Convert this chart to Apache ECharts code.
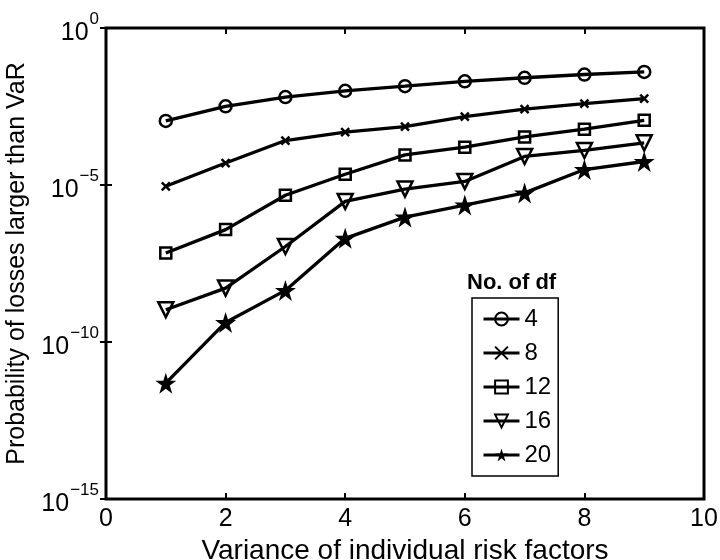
<!DOCTYPE html>
<html>
<head>
<meta charset="utf-8">
<script src="https://cdn.jsdelivr.net/npm/echarts@6/dist/echarts.min.js"></script>
<style>
  html, body { margin: 0; padding: 0; background: #fff; }
  #main { width: 720px; height: 560px; }
</style>
</head>
<body>
<div id="main"></div>
<script>
// variance of individual risk factors
const variances = [1, 2, 3, 4, 5, 6, 7, 8, 9]
// probability of losses larger than VaR, one list per number of df
const df4 = [1.1e-3, 3.2e-3, 6.3e-3, 1.0e-2, 1.4e-2, 2.0e-2, 2.6e-2, 3.3e-2, 4.0e-2]
const df8 = [9.1e-6, 5.0e-5, 2.6e-4, 4.8e-4, 7.2e-4, 1.5e-3, 2.6e-3, 3.9e-3, 5.6e-3]
const df12 = [6.8e-8, 3.8e-7, 4.7e-6, 2.2e-5, 9.1e-5, 1.6e-4, 3.4e-4, 6.0e-4, 1.15e-3]
const df16 = [1.07e-9, 5.2e-9, 1.1e-7, 3.0e-6, 7.4e-6, 1.3e-5, 8.1e-5, 1.26e-4, 2.2e-4]
const df20 = [4.9e-12, 4.2e-10, 4.4e-9, 2.0e-7, 9.5e-7, 2.3e-6, 5.6e-6, 3.1e-5, 5.6e-5]
const dfNames = ['4', '8', '12', '16', '20']

const FONT = '"Liberation Sans", Arial, Helvetica, sans-serif'
const STAR = 'path://M50,0L61.2,34.5L97.6,34.5L68.2,55.9L79.4,90.5L50,69.1L20.6,90.5L31.8,55.9L2.4,34.5L38.8,34.5Z'
const CROSS = 'path://M0,0L10,10M10,0L0,10'

function pairs(ys) {
  return variances.map((x, i) => [x, ys[i]])
}

// marker setup per series (matlab style: o, x, square, down triangle, star)
const markers = [
  { symbol: 'circle', size: 12, fill: 'rgba(0,0,0,0)', rotate: 0 },
  { symbol: CROSS, size: 8, fill: '#000', rotate: 0 },
  { symbol: 'rect', size: 11, fill: 'rgba(0,0,0,0)', rotate: 0 },
  { symbol: 'triangle', size: 15, fill: 'rgba(0,0,0,0)', rotate: 180 },
  { symbol: STAR, size: 21, fill: '#000', rotate: 0 }
]
const allData = [df4, df8, df12, df16, df20]

const series = allData.map((ys, i) => ({
  name: dfNames[i],
  type: 'line',
  data: pairs(ys),
  symbol: markers[i].symbol,
  symbolSize: markers[i].size,
  symbolRotate: markers[i].rotate,
  showAllSymbol: true,
  lineStyle: { color: '#000', width: 3.3 },
  itemStyle: { color: markers[i].fill, borderColor: '#000', borderWidth: i === 4 ? 0 : 2.5 },
  emphasis: { disabled: true },
  z: 3
}))

const tickLabel = { fontFamily: FONT, fontSize: 25, color: '#000' }

const option = {
  animation: false,
  backgroundColor: '#fff',
  grid: {
    left: 106, right: 16, top: 28, bottom: 61,
    outerBoundsMode: 'none',
    show: true, borderColor: '#000', borderWidth: 3
  },
  xAxis: [{
    type: 'value', min: 0, max: 10, interval: 2,
    name: 'Variance of individual risk factors',
    nameLocation: 'middle', nameGap: 35,
    nameTextStyle: { fontFamily: FONT, fontSize: 28, color: '#000' },
    axisLine: { show: false },
    axisTick: { show: true, inside: true, length: 6, lineStyle: { color: '#000', width: 2 } },
    axisLabel: Object.assign({ margin: 8 }, tickLabel),
    splitLine: { show: false }
  }, {
    type: 'value', min: 0, max: 10, interval: 2, position: 'top',
    axisLine: { show: false },
    axisTick: { show: true, inside: true, length: 6, lineStyle: { color: '#000', width: 2 } },
    axisLabel: { show: false },
    splitLine: { show: false }
  }],
  yAxis: [{
    type: 'log', logBase: 10, min: 1e-15, max: 1, interval: 5,
    name: 'Probability of losses larger than VaR',
    nameLocation: 'middle', nameGap: 76, nameRotate: 90,
    nameTextStyle: { fontFamily: FONT, fontSize: 25, color: '#000' },
    axisLine: { show: false },
    axisTick: { show: true, inside: true, length: 6, lineStyle: { color: '#000', width: 2 } },
    axisLabel: {
      margin: 7,
      padding: [10, 0, 0, 0],
      formatter: v => {
        const e = Math.round(Math.log10(v))
        return '{b|10}{e|' + (e < 0 ? '\u2212' + (-e) : e) + '}'
      },
      rich: {
        b: { fontFamily: FONT, fontSize: 25, color: '#000', verticalAlign: 'bottom', lineHeight: 26 },
        e: { fontFamily: FONT, fontSize: 17, color: '#000', verticalAlign: 'bottom', padding: [0, 0, 18, 1], lineHeight: 17 }
      }
    },
    splitLine: { show: false }
  }, {
    type: 'log', logBase: 10, min: 1e-15, max: 1, interval: 5, position: 'right',
    axisLine: { show: false },
    axisTick: { show: true, inside: true, length: 6, lineStyle: { color: '#000', width: 2 } },
    axisLabel: { show: false },
    splitLine: { show: false }
  }],
  legend: {
    data: dfNames,
    orient: 'vertical',
    left: 472, top: 298,
    padding: [9, 7, 9, 10],
    itemWidth: 36, itemHeight: 16, itemGap: 10,
    borderColor: '#000', borderWidth: 1.5,
    backgroundColor: '#fff',
    lineStyle: { width: 3, color: '#000' },
    textStyle: { fontFamily: FONT, fontSize: 24, color: '#000', lineHeight: 24 },
    selectedMode: false
  },
  graphic: [{
    type: 'text', left: 467, top: 272,
    style: { text: 'No. of df', fontFamily: FONT, fontSize: 22, fontWeight: 'bold', fill: '#000' }
  }],
  series
}

const chart = echarts.init(document.getElementById('main'))
chart.setOption(option)
</script>
</body>
</html>
